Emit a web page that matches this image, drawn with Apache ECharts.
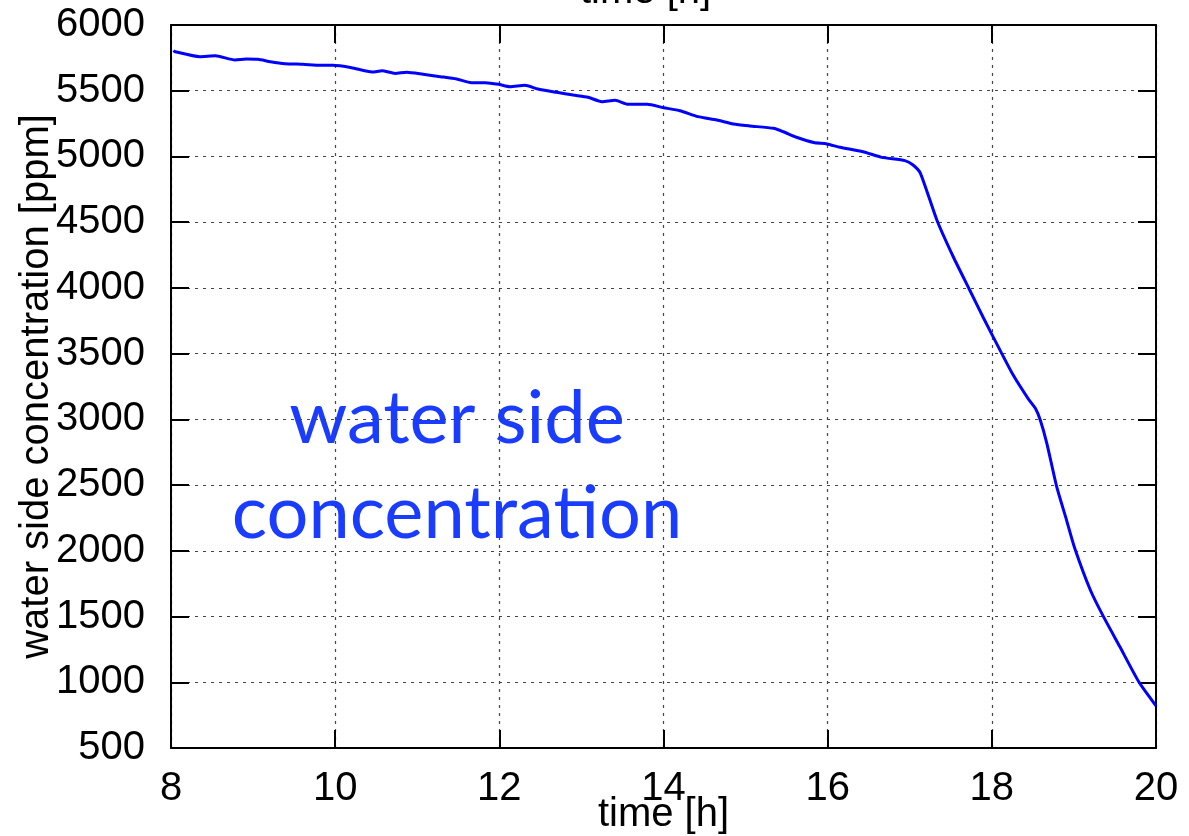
<!DOCTYPE html>
<html>
<head>
<meta charset="utf-8">
<script src="https://cdn.jsdelivr.net/npm/echarts@6/dist/echarts.min.js"></script>
<style>
html,body{margin:0;padding:0;background:#fff;}
#chart{width:1189px;height:836px;}
</style>
</head>
<body>
<div id="chart"></div>
<script>
// time [h]
const hours = [8.03, 8.05, 8.35, 8.54, 8.78, 8.92, 9.06, 9.21, 9.39, 9.61, 9.82, 9.97, 10.2, 10.45, 10.57, 10.73, 10.87, 11.07, 11.28, 11.48, 11.66, 11.83, 11.99,
  12.13, 12.31, 12.47, 12.70, 12.90, 13.08, 13.25, 13.41, 13.57, 13.80, 14.0, 14.20, 14.42, 14.65, 14.85, 15.05, 15.34, 15.46, 15.62, 15.83, 15.99,
  16.15, 16.43, 16.66, 16.94, 17.04, 17.13, 17.33, 17.53, 17.73, 17.90, 18.12, 18.26, 18.44, 18.53, 18.59, 18.67, 18.79, 18.91, 19.01,
  19.20, 19.36, 19.56, 19.79, 20.0];
// water side concentration [ppm]
const ppm = [5805, 5797, 5759, 5766, 5734, 5741, 5739, 5721, 5706, 5701, 5693, 5693, 5675, 5642, 5652, 5632, 5640, 5625, 5607, 5589, 5561, 5561, 5549,
  5531, 5541, 5513, 5488, 5467, 5450, 5417, 5427, 5397, 5397, 5371, 5348, 5303, 5277, 5247, 5232, 5214, 5188, 5146, 5106, 5095,
  5070, 5036, 4993, 4968, 4935, 4872, 4517, 4237, 3984, 3769, 3502, 3337, 3160, 3084, 2995, 2818, 2488, 2234, 2020,
  1702, 1499, 1270, 1004, 820];
const xTicks = {min: 8, max: 20, interval: 2};
const yTicks = {min: 500, max: 6000, interval: 500};
const xName = 'time [h]';
const yName = 'water side concentration [ppm]';
const noteLines = ['water side', 'concentration'];

const FONT = '"Liberation Sans", Arial, Helvetica, sans-serif';
const FS = 40;
const chart = echarts.init(document.getElementById('chart'), null, {renderer: 'canvas'});
const axisLine = {show: true, onZero: false, lineStyle: {color: '#000', width: 2}};
const tick = {show: true, inside: true, length: 18, lineStyle: {color: '#000', width: 2}};
const grid = {show: true, lineStyle: {color: '#444', width: 1.2, type: [3, 5]}};
const plain = v => String(v);

chart.setOption({
  animation: false,
  backgroundColor: '#fff',
  grid: {left: 171, right: 33, top: 25, bottom: 88, containLabel: false, outerBoundsMode: 'none'},
  xAxis: [
    {type: 'value', position: 'bottom', min: xTicks.min, max: xTicks.max, interval: xTicks.interval,
     name: xName, nameLocation: 'middle', nameGap: 47, nameMoveOverlap: false,
     nameTextStyle: {fontFamily: FONT, fontSize: FS, color: '#000'},
     axisLine: axisLine, axisTick: tick, splitLine: grid,
     axisLabel: {margin: 21, fontFamily: FONT, fontSize: FS, color: '#000', formatter: plain}},
    {type: 'value', position: 'top', min: xTicks.min, max: xTicks.max, interval: xTicks.interval,
     axisLine: axisLine, axisTick: tick, splitLine: {show: false}, axisLabel: {show: false}}
  ],
  yAxis: [
    {type: 'value', position: 'left', min: yTicks.min, max: yTicks.max, interval: yTicks.interval,
     name: yName, nameLocation: 'middle', nameGap: 114, nameMoveOverlap: false,
     nameTextStyle: {fontFamily: FONT, fontSize: FS, color: '#000'},
     axisLine: axisLine, axisTick: tick, splitLine: grid,
     axisLabel: {margin: 26, fontFamily: FONT, fontSize: FS, color: '#000', formatter: plain}},
    {type: 'value', position: 'right', min: yTicks.min, max: yTicks.max, interval: yTicks.interval,
     axisLine: axisLine, axisTick: tick, splitLine: {show: false}, axisLabel: {show: false}}
  ],
  series: [{
    type: 'line',
    data: hours.map((h, i) => [h, ppm[i]]),
    showSymbol: false,
    smooth: 0.2,
    lineStyle: {color: '#0000ff', width: 3},
    z: 5
  }],
  graphic: [
    {type: 'text', left: 648 - 68, top: -28, style: {text: xName, font: FS + 'px ' + FONT, fill: '#000'}},
    {type: 'text', x: 457, y: 419, style: {text: noteLines[0], font: '74px Lato, "Open Sans", sans-serif', fill: '#1a3cff', textAlign: 'center', textVerticalAlign: 'middle'}},
    {type: 'text', x: 457, y: 514, style: {text: noteLines[1], font: '74px Lato, "Open Sans", sans-serif', fill: '#1a3cff', textAlign: 'center', textVerticalAlign: 'middle'}}
  ]
});
</script>
</body>
</html>
